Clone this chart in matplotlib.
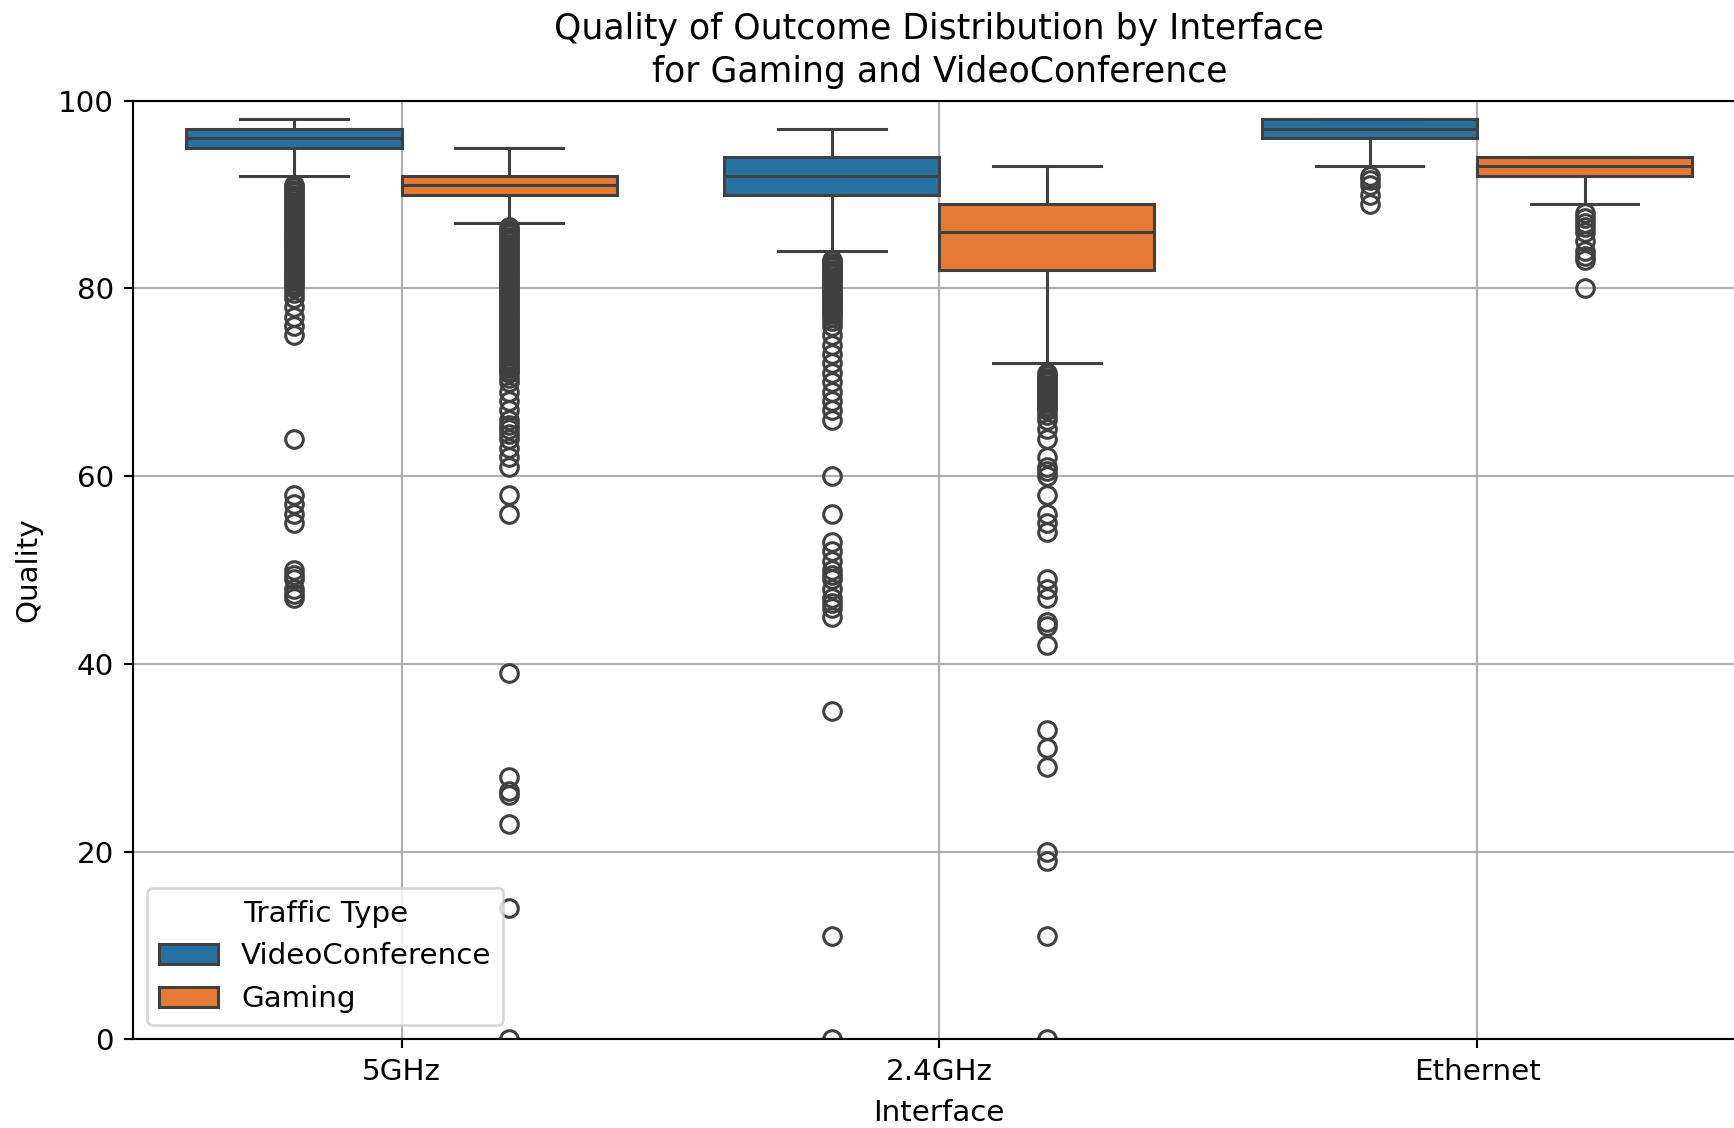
"""Quality of outcome boxplots per interface and traffic type."""

import matplotlib
matplotlib.use("Agg")
import matplotlib.pyplot as plt
from matplotlib.patches import Patch

plt.rcParams["font.size"] = 11

interfaces = ["5GHz", "2.4GHz", "Ethernet"]
traffic_types = ["VideoConference", "Gaming"]
colors = ["#2771a2", "#e67b35"]

# box stats, one value per interface
vc_q1 = [95, 90, 96]
vc_med = [96, 92, 97]
vc_q3 = [97, 94, 98]
vc_whislo = [92, 84, 93]
vc_whishi = [98, 97, 98]

gm_q1 = [90, 82, 92]
gm_med = [91, 86, 93]
gm_q3 = [92, 89, 94]
gm_whislo = [87, 72, 89]
gm_whishi = [95, 93, 94]

# outliers (dense runs are where the circles pile into a solid bar)
vc_fliers_5ghz = [91, 90.75, 90.5, 90.25, 90, 89.75, 89.5, 89.25, 89, 88.75, 88.5,
                  88.25, 88, 87.75, 87.5, 87.25, 87, 86.75, 86.5, 86.25, 86,
                  85.75, 85.5, 85.25, 85, 84.75, 84.5, 84.25, 84, 83.75, 83.5,
                  83.25, 83, 82.75, 82.5, 82.25, 82, 81.75, 81.5, 81.25, 81,
                  80.75, 80.5, 80.25, 80, 79.5, 79, 78, 77, 76, 75, 64,
                  58, 57, 56, 55, 50, 49.5, 49, 48, 47.5, 47]
vc_fliers_24ghz = [83, 82.75, 82.5, 82.25, 82, 81.75, 81.5, 81.25, 81, 80.75, 80.5,
                   80.25, 80, 79.75, 79.5, 79.25, 79, 78.75, 78.5, 78.25, 78,
                   77.75, 77.5, 77.25, 77, 76.5, 76, 75, 74, 73, 72, 71, 70, 69,
                   68, 67, 66, 60, 56, 53, 52, 51, 50, 49.5, 49, 48, 47, 46.5,
                   46, 45, 35, 11, 0]
vc_fliers_eth = [92, 91.5, 91, 90, 89]

gm_fliers_5ghz = [86.5, 86.25, 86, 85.75, 85.5, 85.25, 85, 84.75, 84.5, 84.25, 84,
                  83.75, 83.5, 83.25, 83, 82.75, 82.5, 82.25, 82, 81.75, 81.5,
                  81.25, 81, 80.75, 80.5, 80.25, 80, 79.75, 79.5, 79.25, 79,
                  78.75, 78.5, 78.25, 78, 77.75, 77.5, 77.25, 77, 76.75, 76.5,
                  76.25, 76, 75.75, 75.5, 75.25, 75, 74.75, 74.5, 74.25, 74,
                  73.75, 73.5, 73.25, 73, 72.75, 72.5, 72.25, 72, 71.75, 71.5,
                  71.25, 71, 70.5, 70, 69, 68, 67, 66, 65.5, 65, 64.5, 64, 63,
                  62, 61, 58, 56, 39, 28, 26.5, 26, 23, 14, 0]
gm_fliers_24ghz = [71, 70.75, 70.5, 70.25, 70, 69.75, 69.5, 69.25, 69, 68.75, 68.5,
                   68.25, 68, 67.75, 67.5, 67.25, 67, 66.5, 66, 65, 64, 62, 61,
                   60.5, 60, 58, 56, 55, 54, 49, 48, 47, 44.5, 44, 42, 33, 31,
                   29, 20, 19, 11, 0]
gm_fliers_eth = [88, 87.5, 87, 86.5, 86, 85, 84, 83.5, 83, 80]

vc_fliers = [vc_fliers_5ghz, vc_fliers_24ghz, vc_fliers_eth]
gm_fliers = [gm_fliers_5ghz, gm_fliers_24ghz, gm_fliers_eth]


def make_stats(q1, med, q3, lo, hi, fliers):
    return [
        dict(q1=q1[i], med=med[i], q3=q3[i], whislo=lo[i], whishi=hi[i],
             fliers=fliers[i])
        for i in range(len(q1))
    ]


series = [
    make_stats(vc_q1, vc_med, vc_q3, vc_whislo, vc_whishi, vc_fliers),
    make_stats(gm_q1, gm_med, gm_q3, gm_whislo, gm_whishi, gm_fliers),
]

fig = plt.figure(figsize=(1734 / 192, 1128 / 192), dpi=192)
ax = fig.add_axes([0.0765, 0.0785, 0.9304, 0.8323])

line_col = "0.25"
lw = 1.15
box_w = 0.4

for j, stats in enumerate(series):
    pos = [i - 0.2 + box_w * j for i in range(len(interfaces))]
    ax.bxp(
        stats,
        positions=pos,
        widths=box_w,
        capwidths=box_w / 2,
        patch_artist=True,
        manage_ticks=False,
        boxprops=dict(facecolor=colors[j], edgecolor=line_col, linewidth=lw),
        medianprops=dict(color=line_col, linewidth=lw),
        whiskerprops=dict(color=line_col, linewidth=lw),
        capprops=dict(color=line_col, linewidth=lw),
        flierprops=dict(marker="o", markerfacecolor="none",
                        markeredgecolor=line_col, markersize=6.6,
                        markeredgewidth=lw),
        zorder=2,
    )

ax.set_xlim(-0.5, len(interfaces) - 0.5)
ax.set_ylim(0, 100)
ax.set_xticks(range(len(interfaces)))
ax.set_xticklabels(interfaces)
ax.set_yticks([0, 20, 40, 60, 80, 100])
ax.grid(True, color="#b0b0b0", linewidth=0.8)
ax.set_axisbelow(True)

ax.set_title("Quality of Outcome Distribution by Interface\nfor Gaming and VideoConference",
             fontsize=13, linespacing=1.35, pad=7)
ax.set_xlabel("Interface", labelpad=5)
ax.set_ylabel("Quality", labelpad=6)

handles = [Patch(facecolor=c, edgecolor=line_col, linewidth=lw) for c in colors]
ax.legend(handles, traffic_types, title="Traffic Type", loc="lower left")

fig.savefig("out.png", dpi=192)
